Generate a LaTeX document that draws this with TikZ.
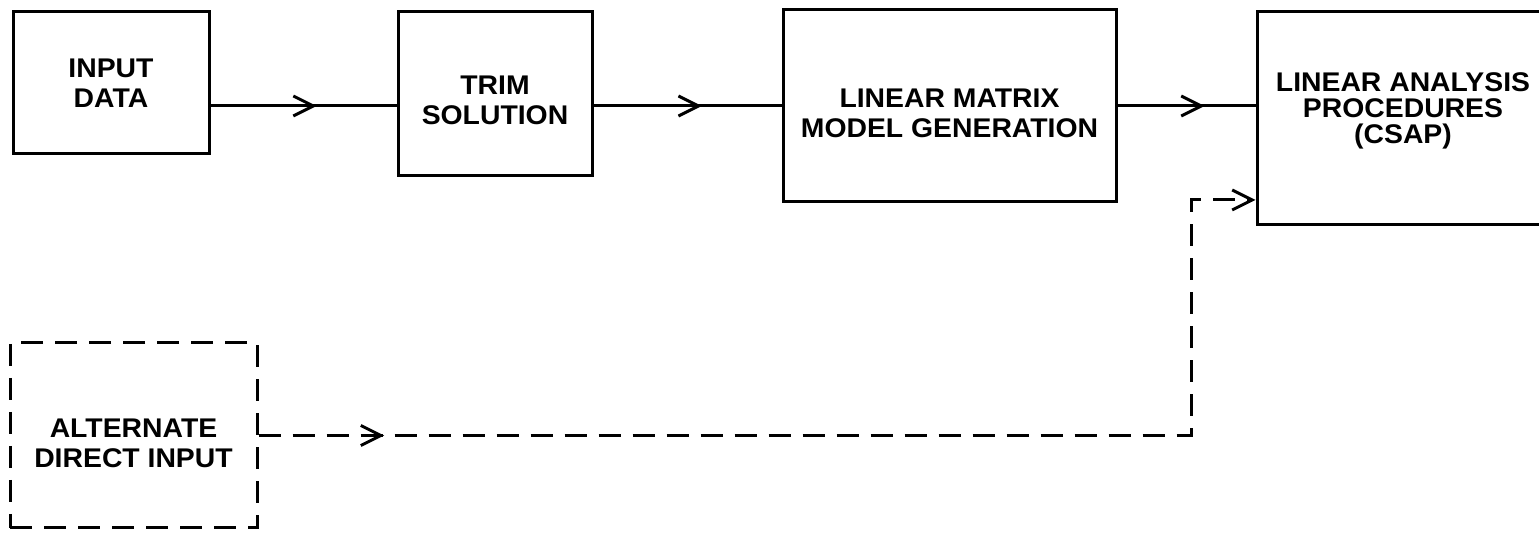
\documentclass[tikz,border=0pt]{standalone}
\usepackage{fontspec}
\setmainfont{Liberation Sans}[FakeStretch=1.05]
\usetikzlibrary{arrows.meta,decorations.markings}

\tikzset{
  bloc/.style={draw,line width=1.5pt,align=center,inner sep=2pt,
    font=\bfseries\fontsize{13.5}{15}\selectfont},
  pointille/.style={dash pattern=on 11pt off 6pt},
  fleche/.style={line width=1.5pt,postaction={decorate},
    decoration={markings,mark=at position #1 with {\arrow{Straight Barb[length=10pt,width=10pt]}}}},
}

\begin{document}
\begin{tikzpicture}[x=0.5pt,y=-0.5pt]
		\useasboundingbox (0,0) rectangle (1539,533);
		%\node (nom node) at(x,y) [style,largeur,hauteur] {texte} ;
		\node (node 1) at(111,83) [bloc,minimum width=98pt,minimum height=71pt] {INPUT\\DATA} ;
		\node (node 2) at(495,94) [bloc,minimum width=97pt,minimum height=82pt,text height=30.2pt,text depth=0pt] {TRIM\\SOLUTION} ;
		\node (node 3) at(949.5,106) [bloc,minimum width=166.5pt,minimum height=96pt,text height=31.7pt,text depth=0pt] {LINEAR MATRIX\\MODEL GENERATION} ;
		\node (node 4) at(1403,118.5) [bloc,minimum width=146pt,minimum height=106.5pt,text height=25.2pt,text depth=0pt,
			font=\bfseries\fontsize{13.5}{13}\selectfont] {LINEAR ANALYSIS\\PROCEDURES\\(CSAP)} ;
		\node (node 5) at(133.5,435.5) [bloc,pointille,minimum width=123.5pt,minimum height=92.5pt,text height=31.7pt,text depth=0pt] {ALTERNATE\\DIRECT INPUT} ;
		\coordinate (coin) at(1191,200) ;

		%fleche=position de la pointe sur le trait
		\path
		(node 1.east |- node 3.west) edge[fleche=0.571] (node 2.west |- node 3.west)
		(node 2.east |- node 3.west) edge[fleche=0.576] (node 3.west)
		(node 3.east) edge[fleche=0.631] (node 4.west |- node 3.east)
		;

		%entree directe en pointilles
		\draw[fleche=0.102,pointille,-{Straight Barb[length=10pt,width=10pt]}] (node 5.east) -| (coin) -- (node 4.west |- coin) ;
\end{tikzpicture}
\end{document}
